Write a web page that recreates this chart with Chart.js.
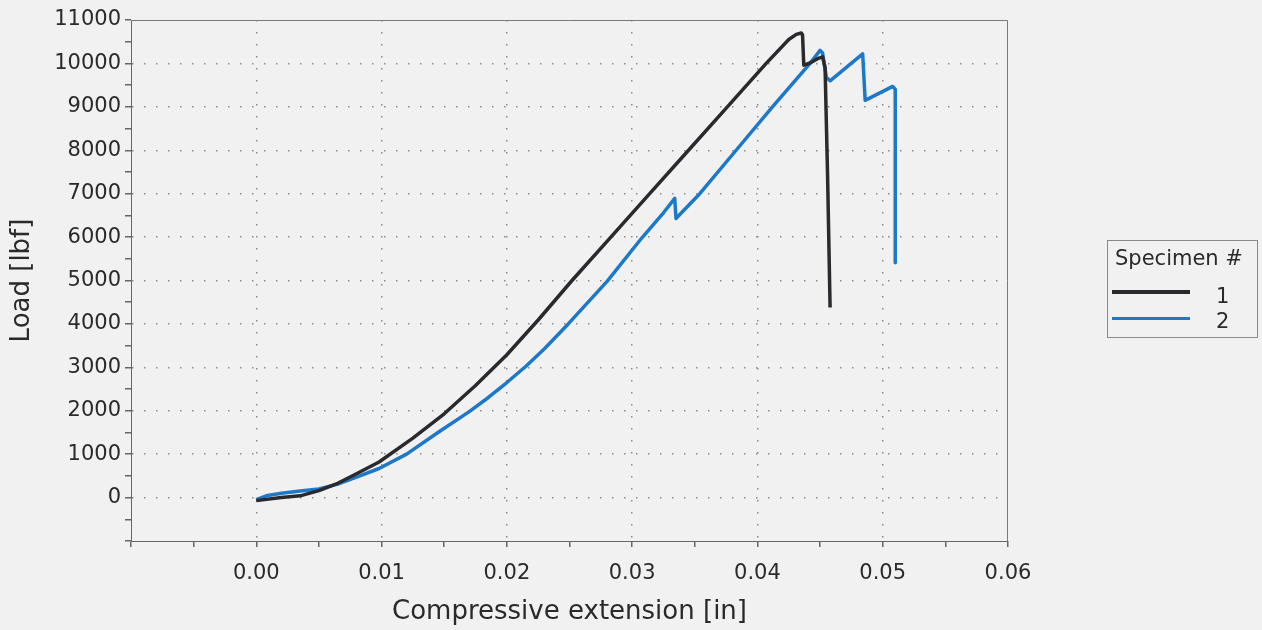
<!DOCTYPE html>
<html>
<head>
<meta charset="utf-8">
<script src="https://cdn.jsdelivr.net/npm/chart.js@4.4.1/dist/chart.umd.min.js"></script>
<style>
  body { margin: 0; background: #f1f1f1; }
  #wrap { position: relative; width: 1262px; height: 630px; }
  #leyenda {
    position: absolute; left: 1107px; top: 240px; width: 149px; height: 96px;
    border: 1px solid #8a8a8a; font-family: "DejaVu Sans", sans-serif; font-size: 21px; color: #2a2a2a;
  }
  #leyenda .tit { position: absolute; left: 7px; top: 5px; line-height: 25px; }
  #leyenda .linea { position: absolute; left: 4px; width: 78px; }
  #leyenda .num { position: absolute; left: 108px; line-height: 24px; }
</style>
</head>
<body>
<div id="wrap">
  <canvas id="grafico" width="1262" height="630"></canvas>
  <div id="leyenda">
    <div class="tit">Specimen #</div>
    <div class="linea" style="top:49px;height:4px;background:#2a2a2e"></div>
    <div class="num" style="top:43px">1</div>
    <div class="linea" style="top:76px;height:3px;background:#1e78c8"></div>
    <div class="num" style="top:68px">2</div>
  </div>
</div>
<script>
const especimenes = ["1", "2"];

// specimen 1 (black)
const ext1 = [0.0, 0.002, 0.0035, 0.005, 0.0065, 0.008, 0.0098, 0.0125, 0.015, 0.0175, 0.020,
  0.0225, 0.0252, 0.0283, 0.0314, 0.0345, 0.0376, 0.0407, 0.0425, 0.0431, 0.0435, 0.0436,
  0.0437, 0.0442, 0.0448, 0.0452, 0.0454, 0.0456, 0.0458];
const carga1 = [-70, 0, 40, 160, 330, 550, 820, 1370, 1930, 2580, 3290,
  4090, 5000, 6000, 7000, 8000, 9000, 10000, 10550, 10670, 10700, 10660,
  9960, 10010, 10110, 10150, 9900, 7400, 4380];

// specimen 2 (blue)
const ext2 = [0.0, 0.0008, 0.002, 0.0035, 0.005, 0.0065, 0.008, 0.0098, 0.012, 0.0145, 0.017, 0.0185,
  0.020, 0.0215, 0.023, 0.0249, 0.028, 0.0308, 0.0325, 0.0334, 0.0335, 0.0343, 0.0354, 0.0383,
  0.0412, 0.0442, 0.0450, 0.0452, 0.0455, 0.0458, 0.0484, 0.0486, 0.0508, 0.0510, 0.0510];
const carga2 = [-50, 40, 100, 150, 200, 310, 470, 670, 1000, 1500, 1980, 2300,
  2650, 3020, 3430, 4000, 4980, 5990, 6560, 6890, 6430, 6670, 7000, 8000,
  9000, 10000, 10300, 10240, 9680, 9600, 10220, 9150, 9470, 9400, 5410];

const xTicks = [0.00, 0.01, 0.02, 0.03, 0.04, 0.05, 0.06];
const yTicks = [0, 1000, 2000, 3000, 4000, 5000, 6000, 7000, 8000, 9000, 10000, 11000];

const colores = ["#2a2a2e", "#1e78c8"];

function puntos(xs, ys) {
  return xs.map((x, i) => ({ x: x, y: ys[i] }));
}

// marco superior y derecho del area
const marco = {
  id: "marco",
  afterDraw(chart) {
    const { ctx, chartArea: a } = chart;
    ctx.save();
    ctx.strokeStyle = "#7a7a7a";
    ctx.lineWidth = 1;
    ctx.beginPath();
    ctx.moveTo(a.left, a.top + 0.5);
    ctx.lineTo(a.right - 0.5, a.top + 0.5);
    ctx.lineTo(a.right - 0.5, a.bottom);
    ctx.stroke();
    ctx.restore();
  },
};

Chart.defaults.font.family = "'DejaVu Sans', sans-serif";
Chart.defaults.font.size = 21;
Chart.defaults.color = "#2a2a2a";

const esMayorX = v => xTicks.some(t => Math.abs(t - v) < 1e-6);
const esMayorY = v => yTicks.includes(Math.round(v));
const etiquetaX = v => {
  const t = xTicks.find(t => Math.abs(t - v) < 1e-6);
  return t === undefined ? "" : t.toFixed(2);
};

new Chart(document.getElementById("grafico"), {
  type: "scatter",
  data: {
    datasets: [
      {
        label: especimenes[0],
        data: puntos(ext1, carga1),
        showLine: true,
        borderColor: colores[0],
        borderWidth: 3.5,
        pointRadius: 0,
        borderJoinStyle: "round",
      },
      {
        label: especimenes[1],
        data: puntos(ext2, carga2),
        showLine: true,
        borderColor: colores[1],
        borderWidth: 3.5,
        pointRadius: 0,
        borderJoinStyle: "round",
      },
    ],
  },
  options: {
    responsive: false,
    animation: false,
    layout: { padding: { left: 0, top: 20, right: 254, bottom: 1 } },
    plugins: { legend: { display: false }, tooltip: { enabled: false } },
    scales: {
      x: {
        type: "linear",
        min: -0.01,
        max: 0.06,
        afterFit: s => { s.height = 88; },
        ticks: {
          stepSize: 0.005,
          autoSkip: false,
          maxRotation: 0,
          padding: 14,
          callback: v => etiquetaX(v),
        },
        grid: {
          color: c => (c.tick && esMayorX(c.tick.value) && c.tick.value < 0.059 ? "#8a8a8a" : "transparent"),
          lineWidth: 1.5,
          tickColor: "#666",
          tickLength: 6,
        },
        border: { color: "#666", width: 1, dash: [1.5, 10.5] },
        title: {
          display: true,
          text: "Compressive extension [in]",
          font: { size: 26 },
          padding: { top: 4, bottom: 1 },
        },
      },
      y: {
        min: -1000,
        max: 11000,
        afterFit: s => { s.width = 131; },
        ticks: {
          stepSize: 500,
          autoSkip: false,
          padding: 4,
          callback: v => (esMayorY(v) ? String(v) : ""),
        },
        grid: {
          color: c => (c.tick && esMayorY(c.tick.value) && c.tick.value < 10999 ? "#8a8a8a" : "transparent"),
          lineWidth: 1.5,
          tickColor: "#666",
          tickLength: 6,
        },
        border: { color: "#666", width: 1, dash: [1.5, 10.5] },
        title: {
          display: true,
          text: "Load [lbf]",
          font: { size: 26 },
          padding: { top: 7, bottom: 0 },
        },
      },
    },
  },
  plugins: [marco],
});
</script>
</body>
</html>
